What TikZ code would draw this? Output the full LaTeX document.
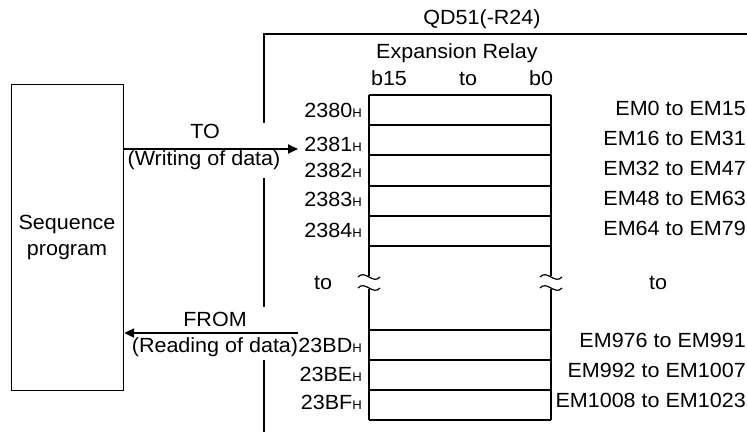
\documentclass[tikz,border=0pt]{standalone}
\usepackage{fontspec}
\setmainfont{Liberation Sans}[FakeStretch=1.05]
\usetikzlibrary{arrows.meta}
\newcommand{\hx}{{\fontsize{12.5}{12.5}\selectfont H}}
\begin{document}
\begin{tikzpicture}[x=1pt,y=-1pt,
  lbl/.style={inner sep=0pt, font=\fontsize{20.5}{24}\selectfont},
  framel/.style={line width=1.8pt},
  rowh/.style={line width=1.8pt},
  rowv/.style={line width=1.2pt},
  arr/.style={line width=2pt, -{Triangle[length=10pt,width=9pt]}},
  boxl/.style={draw, line width=1.2pt, inner sep=0pt}]
\useasboundingbox (0,0) rectangle (747,432);

% sequence program box
\node[boxl, anchor=north west, minimum width=112pt, minimum height=306pt] (seq) at (11,84) {};
\node[lbl, anchor=base] (seqa) at (67,229) {Sequence};
\node[lbl, anchor=base] (seqb) at (67,255) {program};

% module frame
\node[lbl, anchor=base] (qd) at (482,24) {QD51(-R24)};
\coordinate (fr) at (747,34);
\coordinate (ftl) at (264,34);
\coordinate (fa) at (264,123);
\coordinate (fb) at (264,178);
\coordinate (fc) at (264,307);
\coordinate (fd) at (264,360);
\coordinate (fe) at (264,432);
\draw[framel] (fr) -- (ftl) -- (fa);
\draw[framel] (fb) -- (fc);
\draw[framel] (fd) -- (fe);

% header
\node[lbl, anchor=base] (exp) at (457,58) {Expansion Relay};
\node[lbl, anchor=base] (b15) at (389,85) {b15};
\node[lbl, anchor=base] (bto) at (468,85) {to};
\node[lbl, anchor=base] (b0) at (541,85) {b0};

% rows
\foreach \y in {95,125,155,186,216,246,330,360,390,420}
  \draw[rowh] (369,\y) -- (551,\y);
\foreach \x in {369,551}{
  \draw[rowv] (\x,95) -- (\x,276);
  \draw[rowv] (\x-11,277) .. controls (\x-4,269) and (\x+4,285) .. (\x+11,277);
  \draw[rowv] (\x-11,288) .. controls (\x-4,280) and (\x+4,296) .. (\x+11,288);
  \draw[rowv] (\x,289) -- (\x,420);
}

% address labels
\node[lbl, anchor=base east] (a0) at (362,117) {2380\hx};
\node[lbl, anchor=base east] (a1) at (362,151) {2381\hx};
\node[lbl, anchor=base east] (a2) at (362,177) {2382\hx};
\node[lbl, anchor=base east] (a3) at (362,206) {2383\hx};
\node[lbl, anchor=base east] (a4) at (362,237) {2384\hx};
\node[lbl, anchor=base] (lto) at (323,289) {to};
\node[lbl, anchor=base east] (a5) at (362,352) {23BD\hx};
\node[lbl, anchor=base east] (a6) at (362,381) {23BE\hx};
\node[lbl, anchor=base east] (a7) at (362,409) {23BF\hx};

% relay labels
\node[lbl, anchor=base east] (e0) at (746,115) {EM0 to EM15};
\node[lbl, anchor=base east] (e1) at (746,145) {EM16 to EM31};
\node[lbl, anchor=base east] (e2) at (746,175) {EM32 to EM47};
\node[lbl, anchor=base east] (e3) at (746,205) {EM48 to EM63};
\node[lbl, anchor=base east] (e4) at (746,235) {EM64 to EM79};
\node[lbl, anchor=base] (rto) at (658,289) {to};
\node[lbl, anchor=base east] (e5) at (746,347) {EM976 to EM991};
\node[lbl, anchor=base east] (e6) at (746,377) {EM992 to EM1007};
\node[lbl, anchor=base east] (e7) at (746,407) {EM1008 to EM1023};

% arrows
\coordinate (toend) at (298,149);
\coordinate (fromstart) at (298,333);
\draw[arr] (seq.east |- toend) -- (toend);
\draw[arr] (fromstart) -- (seq.east |- fromstart);
\node[lbl, anchor=base] (tol) at (205,138) {TO};
\node[lbl, anchor=base] (wrl) at (204,165) {(Writing of data)};
\node[lbl, anchor=base] (frl) at (215,326) {FROM};
\node[lbl, anchor=base] (rdl) at (215,352) {(Reading of data)};
\end{tikzpicture}
\end{document}
